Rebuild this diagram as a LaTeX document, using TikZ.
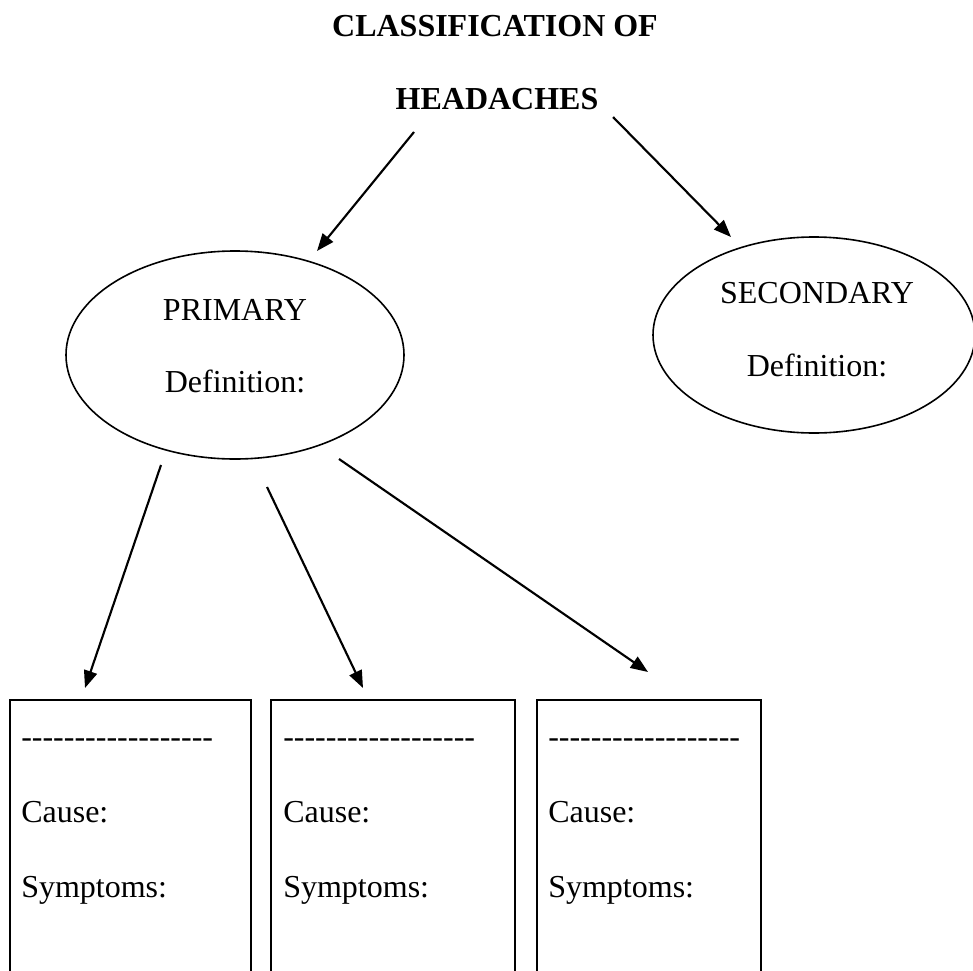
\documentclass[tikz,border=0pt]{standalone}
\usepackage{fontspec}
\setmainfont{Liberation Serif}
\usetikzlibrary{arrows.meta,shapes.geometric}
\tikzset{
  txt/.style={inner sep=0pt,font=\fontsize{24pt}{28pt}\selectfont},
  ttl/.style={txt,font=\fontsize{24pt}{28pt}\selectfont\bfseries,anchor=base},
  oval/.style={draw,ellipse,line width=1.2pt,inner sep=0pt},
  card/.style={draw,line width=1.4pt,rectangle,inner sep=0pt,anchor=north west},
  lbl/.style={txt,anchor=base west},
  ctr/.style={txt,anchor=base},
  arr/.style={line width=1.6pt,-{Triangle[length=13pt,width=10pt]}}
}
\newcommand{\dashrow}{-{}-{}-{}-{}-{}-{}-{}-{}-{}-{}-{}-{}-{}-{}-{}-{}-{}-}
\begin{document}
\begin{tikzpicture}[x=0.75pt,y=-0.75pt]
\useasboundingbox (0,0) rectangle (973,970);
\clip (0,0) rectangle (973,970);
% title
\node[ttl] (t1) at (495,37) {CLASSIFICATION OF};
\node[ttl] (t2) at (497,110) {HEADACHES};
% ellipses (sizes in pt = px * 0.75)
\node[oval,minimum width=253.5pt,minimum height=156pt] (prim) at (235,355) {};
\node[ctr] (primT) at (235,320) {PRIMARY};
\node[ctr] (primD) at (235,392) {Definition:};
\node[oval,minimum width=241.5pt,minimum height=147pt] (sec) at (814,335) {};
\node[ctr] (secT) at (817,303) {SECONDARY};
\node[ctr] (secD) at (817,376) {Definition:};
% boxes
\node[card,minimum width=180.75pt,minimum height=225pt] (box1) at (9,699) {};
\node[card,minimum width=183pt,minimum height=225pt] (box2) at (270,699) {};
\node[card,minimum width=168pt,minimum height=225pt] (box3) at (536,699) {};
\node[lbl] (b1d) at (21,747) {\dashrow};
\node[lbl] (b1c) at (21,822) {Cause:};
\node[lbl] (b1s) at (21,897) {Symptoms:};
\node[lbl] (b2d) at (283,747) {\dashrow};
\node[lbl] (b2c) at (283,822) {Cause:};
\node[lbl] (b2s) at (283,897) {Symptoms:};
\node[lbl] (b3d) at (548,747) {\dashrow};
\node[lbl] (b3c) at (548,822) {Cause:};
\node[lbl] (b3s) at (548,897) {Symptoms:};
% arrow ends
\coordinate (a1s) at (414,132); \coordinate (a1e) at (317,251);
\coordinate (a2s) at (613,117); \coordinate (a2e) at (731,237);
\coordinate (a3s) at (161,465); \coordinate (a3e) at (85,688);
\coordinate (a4s) at (267,487); \coordinate (a4e) at (363,688);
\coordinate (a5s) at (339,459); \coordinate (a5e) at (648,672);
\draw[arr] (a1s) -- (a1e);
\draw[arr] (a2s) -- (a2e);
\draw[arr] (a3s) -- (a3e);
\draw[arr] (a4s) -- (a4e);
\draw[arr] (a5s) -- (a5e);
\end{tikzpicture}
\end{document}
